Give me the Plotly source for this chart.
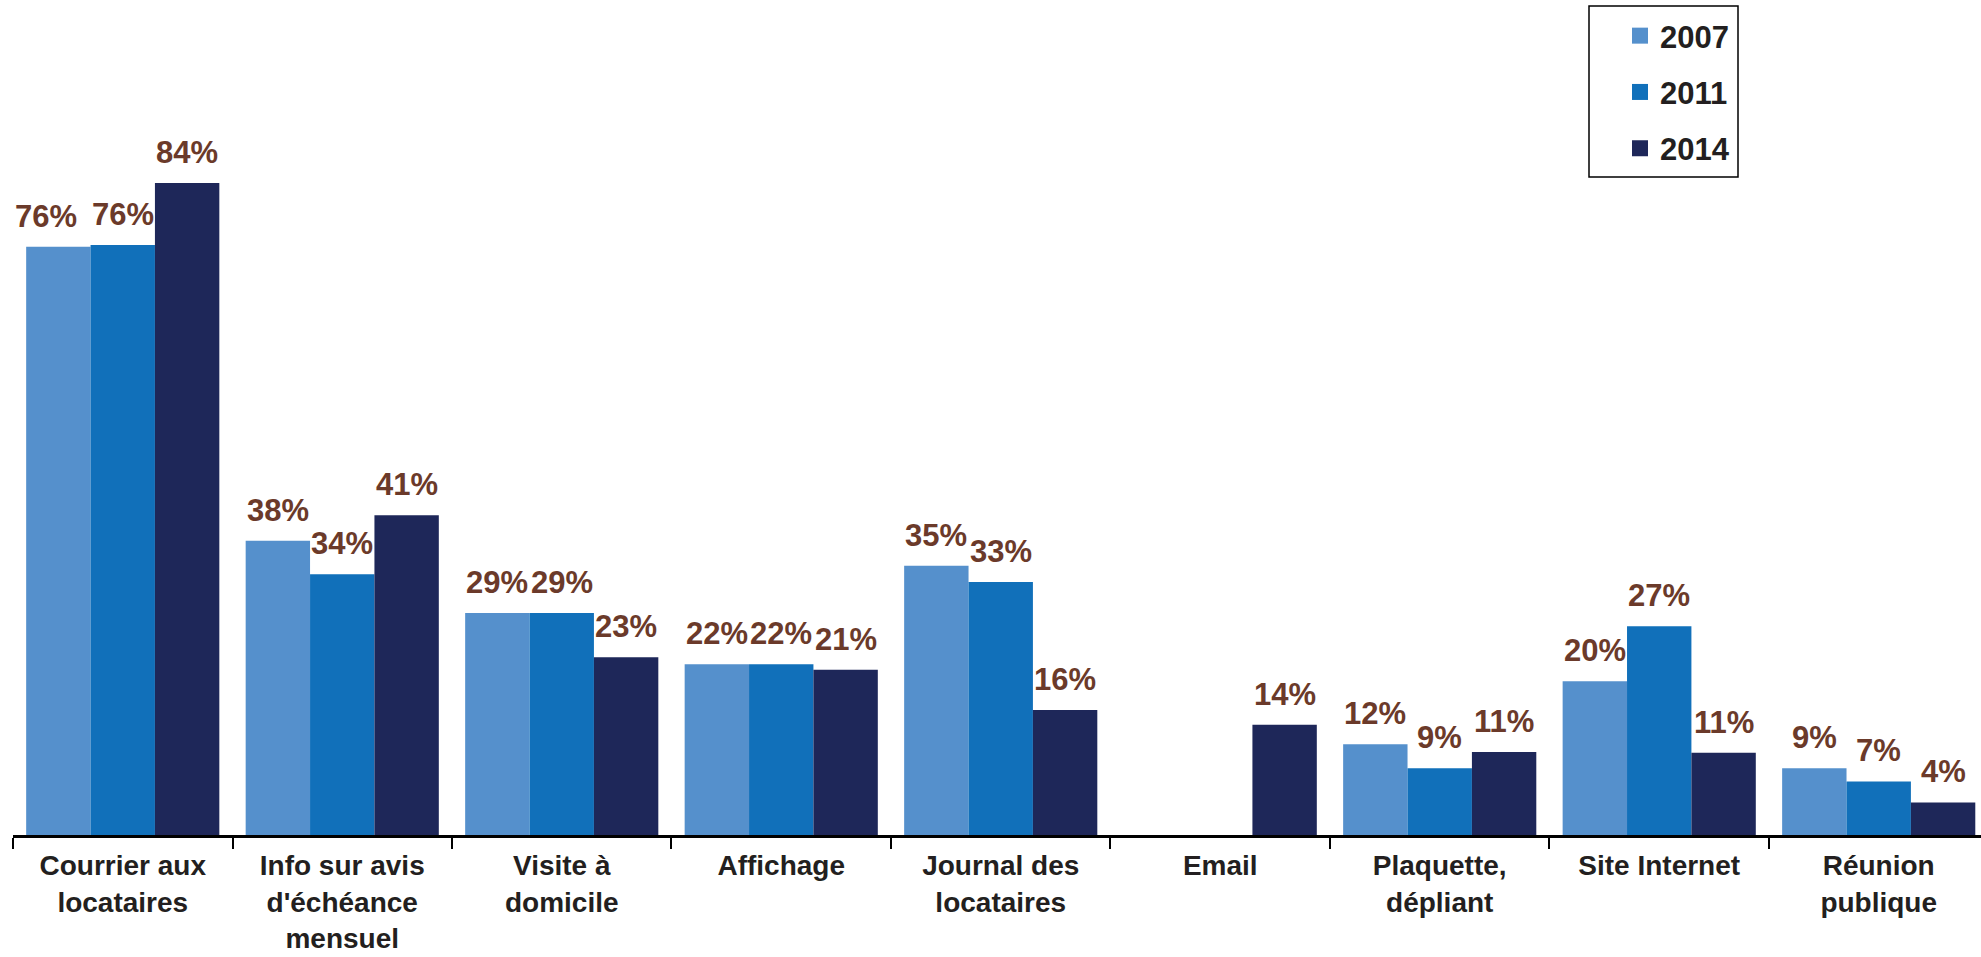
import plotly.graph_objects as go

categories = ["Courrier aux<br>locataires", "Info sur avis<br>d'échéance<br>mensuel", "Visite à<br>domicile",
              "Affichage", "Journal des<br>locataires", "Email", "Plaquette,<br>dépliant",
              "Site Internet", "Réunion<br>publique"]
years = ["2007", "2011", "2014"]
v2007 = [75.8, 37.9, 28.6, 22.0, 34.7, None, 11.7, 19.8, 8.6]
v2011 = [76.0, 33.6, 28.6, 22.0, 32.6, None, 8.6, 26.9, 6.9]
v2014 = [84.0, 41.2, 22.9, 21.3, 16.1, 14.2, 10.7, 10.6, 4.2]
colors = ["#5590CC", "#1170BA", "#1E2759"]

W, H = 1981, 957
ML, MR, MT, MB = 13, 0, 0, 122
FONT = "Liberation Sans, Arial, sans-serif"

fig = go.Figure()
series = [v2007, v2011, v2014]
for name, vals, col in zip(years, series, colors):
    fig.add_trace(go.Bar(x=categories, y=vals, name=name, marker=dict(color=col, line=dict(width=0)),
                         showlegend=False, hoverinfo="skip"))
for name, col in zip(years, colors):
    fig.add_trace(go.Scatter(x=[None], y=[None], mode="markers", name=name, legendgroup=name,
                             marker=dict(symbol="square", size=16, color=col)))

# value labels
ann = []
for i, vals in enumerate(series):
    off = (i - 1) * (0.88 / 3)
    for j, v in enumerate(vals):
        if v is None:
            continue
        ann.append(dict(x=j + off, y=v, xref="x", yref="y", text=f"{round(v)}%",
                        showarrow=False, yanchor="bottom", yshift=11,
                        xshift=-12 if (i == 0 and j == 0) else 0,
                        font=dict(family=FONT, size=31, color="#6B3A2A", weight="bold")))

ymax = 835 / 7.762
fig.update_layout(
    width=W, height=H, margin=dict(l=ML, r=MR, t=MT, b=MB, autoexpand=False),
    paper_bgcolor="white", plot_bgcolor="white",
    barmode="group", bargap=0.12, bargroupgap=0,
    font=dict(family=FONT, size=28, color="#231F20"),
    xaxis=dict(type="category", range=[-0.5, 8.466], tickson="boundaries", ticks="outside",
               ticklen=11, tickwidth=2, tickcolor="black", showline=True, linecolor="black",
               linewidth=2.5, showgrid=False, ticklabelstandoff=4,
               tickfont=dict(family=FONT, size=28, color="#231F20", weight="bold"),
               automargin=False),
    yaxis=dict(range=[0, ymax], visible=False, showgrid=False, zeroline=False, fixedrange=True),
    legend=dict(xref="container", yref="container", x=1620 / W, y=1 - 9 / H, xanchor="left", yanchor="top",
                bgcolor="rgba(0,0,0,0)", borderwidth=0, tracegroupgap=13,
                font=dict(family=FONT, size=31, color="#231F20", weight="bold")),
    annotations=ann,
    shapes=[dict(type="rect", xref="paper", yref="paper",
                 x0=(1589 - ML) / (W - ML), x1=(1738 - ML) / (W - ML),
                 y0=(835 - 177) / 835, y1=(835 - 6) / 835,
                 line=dict(color="black", width=1.5), fillcolor="rgba(0,0,0,0)")],
)

fig.write_html("out.html")
